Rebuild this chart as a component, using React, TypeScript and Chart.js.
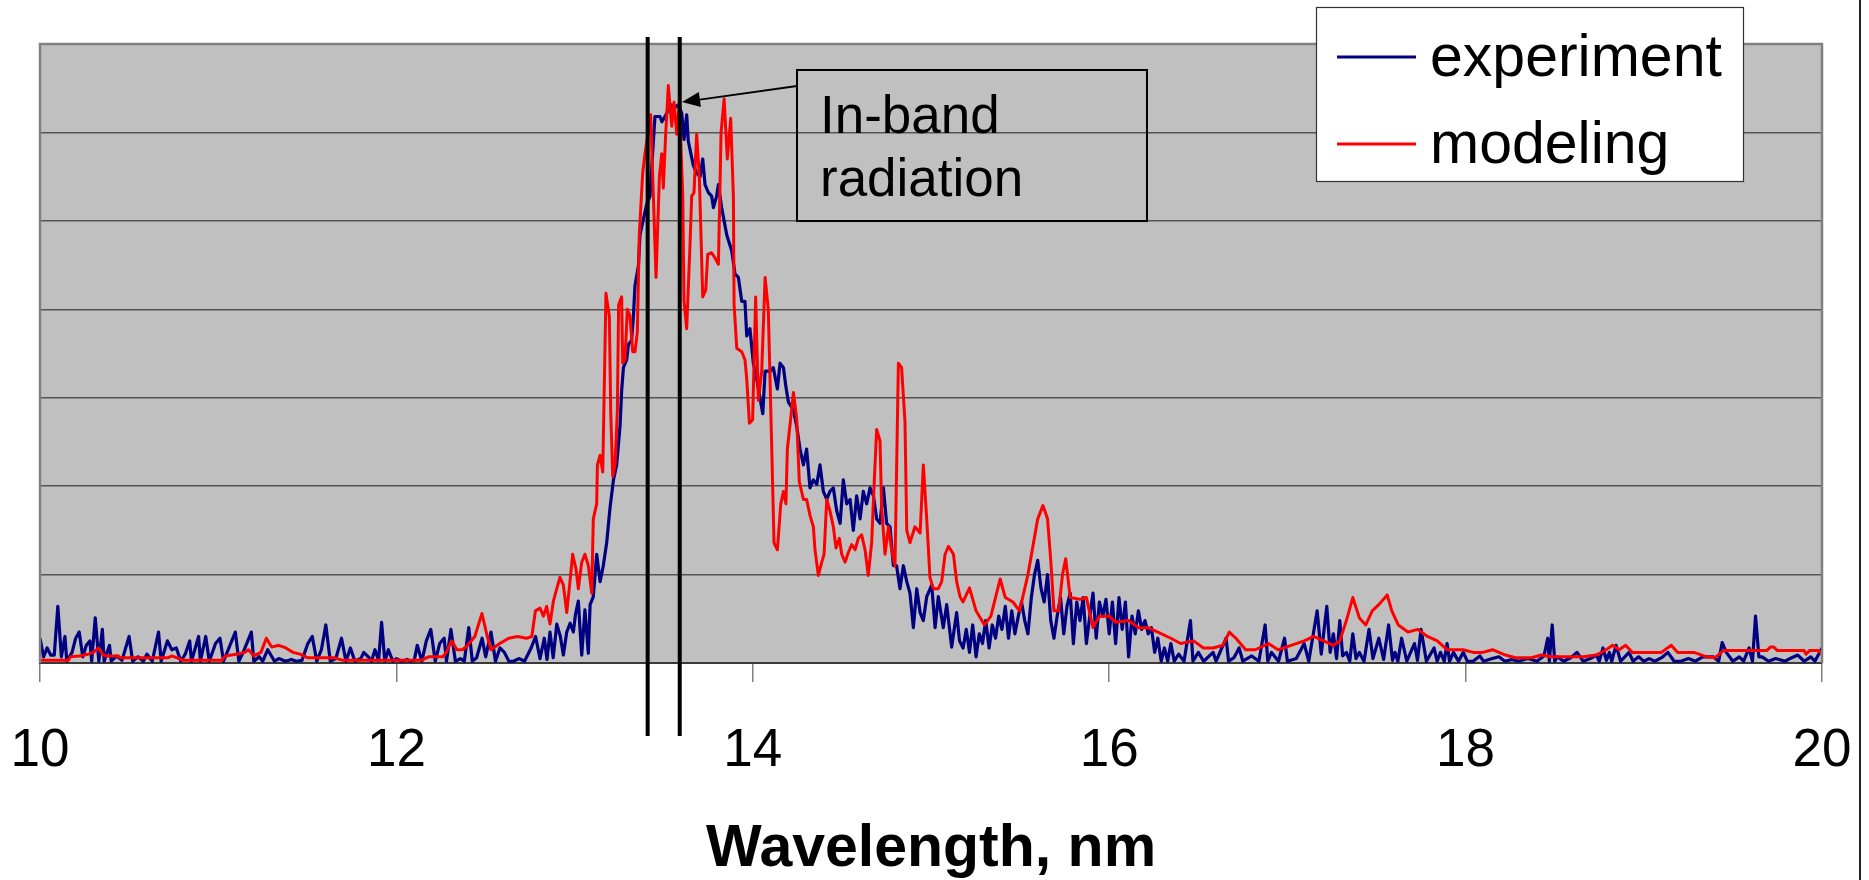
import React, { useEffect, useRef } from "react";
import { Chart, registerables } from "chart.js";

Chart.register(...registerables);

const FONT = '"Liberation Sans", Arial, Helvetica, sans-serif';

// ---- Data (wavelength in nm, intensity in arbitrary gridline units) ----
const seriesNames = ["experiment", "modeling"];
const xAxisTitle = "Wavelength, nm";
const xTickValues = [10, 12, 14, 16, 18, 20];
const bandEdges = [13.41, 13.59];
const annotationLines = ["In-band", "radiation"];

const experimentPoints: [number, number][] = [
  [10.0, 0.28], [10.02, 0.07], [10.04, 0.17], [10.06, 0.09], [10.08, 0.09], [10.1, 0.64], [10.12, 0.07],
  [10.14, 0.3], [10.15, 0.02], [10.18, 0.12], [10.2, 0.28], [10.22, 0.35], [10.24, 0.07], [10.26, 0.2],
  [10.28, 0.25], [10.29, 0.02], [10.31, 0.51], [10.33, 0.02], [10.35, 0.38], [10.36, 0.02], [10.39, 0.2],
  [10.4, 0.02], [10.43, 0.08], [10.46, 0.03], [10.5, 0.3], [10.52, 0.02], [10.55, 0.07], [10.58, 0.02],
  [10.6, 0.1], [10.63, 0.02], [10.665, 0.35], [10.68, 0.02], [10.715, 0.25], [10.74, 0.15], [10.765, 0.17],
  [10.79, 0.02], [10.815, 0.1], [10.84, 0.25], [10.85, 0.02], [10.89, 0.3], [10.9, 0.02], [10.93, 0.3],
  [10.95, 0.02], [10.985, 0.22], [11.01, 0.28], [11.03, 0.02], [11.066, 0.2], [11.096, 0.35], [11.116, 0.02],
  [11.14, 0.12], [11.186, 0.35], [11.2, 0.02], [11.23, 0.07], [11.25, 0.02], [11.278, 0.15], [11.316, 0.02],
  [11.34, 0.05], [11.378, 0.02], [11.41, 0.04], [11.44, 0.02], [11.47, 0.03], [11.503, 0.22], [11.528, 0.3],
  [11.553, 0.02], [11.579, 0.15], [11.604, 0.43], [11.629, 0.02], [11.66, 0.05], [11.692, 0.28], [11.717, 0.02],
  [11.742, 0.17], [11.767, 0.02], [11.8, 0.05], [11.817, 0.12], [11.842, 0.07], [11.86, 0.02], [11.88, 0.15],
  [11.9, 0.03], [11.917, 0.46], [11.935, 0.02], [11.955, 0.15], [11.98, 0.02], [12.0, 0.05], [12.03, 0.02],
  [12.06, 0.04], [12.08, 0.02], [12.1, 0.03], [12.117, 0.2], [12.143, 0.02], [12.168, 0.25], [12.193, 0.38],
  [12.218, 0.02], [12.243, 0.22], [12.268, 0.28], [12.281, 0.02], [12.306, 0.38], [12.331, 0.02], [12.36, 0.05],
  [12.381, 0.02], [12.406, 0.4], [12.426, 0.02], [12.45, 0.06], [12.481, 0.28], [12.501, 0.07], [12.531, 0.35],
  [12.556, 0.02], [12.581, 0.17], [12.606, 0.12], [12.631, 0.02], [12.656, 0.02], [12.69, 0.05], [12.719, 0.02],
  [12.756, 0.17], [12.781, 0.3], [12.806, 0.05], [12.83, 0.28], [12.845, 0.04], [12.862, 0.35], [12.88, 0.06],
  [12.9, 0.44], [12.92, 0.3], [12.937, 0.09], [12.956, 0.35], [12.975, 0.45], [12.993, 0.35], [13.005, 0.55],
  [13.021, 0.7], [13.03, 0.4], [13.04, 0.09], [13.058, 0.6], [13.077, 0.11], [13.087, 0.66], [13.105, 0.75],
  [13.124, 1.23], [13.143, 0.92], [13.161, 1.1], [13.18, 1.36], [13.199, 1.76], [13.218, 2.07], [13.236, 2.24],
  [13.255, 2.68], [13.264, 3.08], [13.274, 3.34], [13.292, 3.43], [13.302, 3.6], [13.32, 3.65], [13.33, 3.92],
  [13.339, 4.27], [13.358, 4.49], [13.367, 4.84], [13.386, 5.02], [13.405, 5.19], [13.423, 5.28], [13.442, 5.9],
  [13.451, 6.18], [13.479, 6.18], [13.49, 6.12], [13.507, 6.18], [13.526, 6.25], [13.545, 6.31], [13.555, 6.2],
  [13.564, 6.29], [13.582, 6.31], [13.601, 6.22], [13.614, 5.92], [13.629, 6.2], [13.638, 5.9], [13.666, 5.63],
  [13.685, 5.54], [13.704, 5.5], [13.719, 5.7], [13.732, 5.41], [13.751, 5.32], [13.769, 5.28], [13.779, 5.15],
  [13.797, 5.28], [13.807, 5.41], [13.825, 5.15], [13.854, 4.84], [13.882, 4.66], [13.9, 4.4], [13.919, 4.36],
  [13.938, 4.09], [13.956, 4.09], [13.966, 3.7], [13.984, 3.78], [14.003, 3.39], [14.022, 3.21], [14.041, 2.99],
  [14.056, 2.82], [14.069, 3.3], [14.097, 3.3], [14.115, 3.34], [14.138, 3.1], [14.153, 3.39], [14.172, 3.34],
  [14.186, 3.12], [14.2, 2.95], [14.228, 2.86], [14.246, 2.68], [14.265, 2.42], [14.284, 2.24], [14.302, 2.42],
  [14.321, 1.98], [14.34, 2.07], [14.359, 2.02], [14.377, 2.24], [14.396, 1.94], [14.415, 1.85], [14.433, 1.94],
  [14.452, 1.98], [14.471, 1.72], [14.49, 1.58], [14.508, 2.07], [14.527, 1.8], [14.546, 1.85], [14.564, 1.5],
  [14.583, 1.89], [14.602, 1.63], [14.62, 1.94], [14.639, 1.8], [14.658, 1.98], [14.677, 1.89], [14.695, 1.63],
  [14.714, 1.58], [14.733, 1.98], [14.751, 1.58], [14.77, 1.54], [14.789, 1.1], [14.807, 1.1], [14.826, 0.84],
  [14.845, 1.1], [14.864, 0.92], [14.882, 0.79], [14.901, 0.4], [14.92, 0.84], [14.939, 0.57], [14.957, 0.48],
  [14.976, 0.75], [15.004, 0.88], [15.023, 0.4], [15.041, 0.75], [15.069, 0.4], [15.088, 0.66], [15.116, 0.18],
  [15.144, 0.57], [15.16, 0.25], [15.18, 0.17], [15.198, 0.38], [15.216, 0.12], [15.234, 0.43], [15.253, 0.07],
  [15.271, 0.33], [15.289, 0.22], [15.307, 0.48], [15.326, 0.17], [15.344, 0.43], [15.362, 0.28], [15.38, 0.53],
  [15.398, 0.38], [15.417, 0.64], [15.435, 0.28], [15.453, 0.59], [15.471, 0.33], [15.49, 0.53], [15.508, 0.69],
  [15.526, 0.48], [15.544, 0.33], [15.563, 0.74], [15.581, 1.0], [15.599, 1.16], [15.617, 0.85], [15.635, 0.69],
  [15.654, 1.0], [15.672, 0.48], [15.69, 0.28], [15.708, 0.53], [15.727, 0.74], [15.745, 0.33], [15.763, 0.64],
  [15.781, 0.79], [15.799, 0.22], [15.818, 0.69], [15.836, 0.48], [15.854, 0.74], [15.872, 0.22], [15.891, 0.53],
  [15.909, 0.79], [15.927, 0.28], [15.945, 0.69], [15.964, 0.53], [15.982, 0.72], [16.0, 0.33], [16.018, 0.69],
  [16.036, 0.22], [16.055, 0.74], [16.073, 0.38], [16.091, 0.69], [16.109, 0.07], [16.128, 0.53], [16.146, 0.33],
  [16.164, 0.59], [16.182, 0.38], [16.201, 0.48], [16.219, 0.33], [16.237, 0.4], [16.255, 0.12], [16.273, 0.28],
  [16.292, 0.02], [16.31, 0.17], [16.328, 0.02], [16.346, 0.22], [16.365, 0.02], [16.39, 0.1], [16.42, 0.02],
  [16.456, 0.48], [16.47, 0.02], [16.5, 0.12], [16.53, 0.02], [16.583, 0.12], [16.6, 0.02], [16.656, 0.28],
  [16.67, 0.02], [16.7, 0.06], [16.729, 0.17], [16.75, 0.02], [16.8, 0.08], [16.84, 0.02], [16.875, 0.43],
  [16.89, 0.02], [16.911, 0.12], [16.95, 0.02], [16.984, 0.28], [17.0, 0.02], [17.05, 0.05], [17.094, 0.22],
  [17.12, 0.02], [17.167, 0.59], [17.19, 0.1], [17.221, 0.64], [17.24, 0.12], [17.258, 0.33], [17.276, 0.05],
  [17.294, 0.48], [17.31, 0.08], [17.331, 0.12], [17.35, 0.02], [17.367, 0.33], [17.385, 0.05], [17.404, 0.12],
  [17.43, 0.02], [17.458, 0.38], [17.48, 0.05], [17.513, 0.28], [17.54, 0.04], [17.568, 0.43], [17.59, 0.03],
  [17.604, 0.12], [17.62, 0.02], [17.641, 0.28], [17.67, 0.02], [17.713, 0.22], [17.73, 0.03], [17.75, 0.38],
  [17.78, 0.02], [17.823, 0.17], [17.84, 0.02], [17.859, 0.12], [17.88, 0.02], [17.896, 0.22], [17.91, 0.02],
  [17.932, 0.12], [17.96, 0.02], [17.987, 0.12], [18.01, 0.02], [18.042, 0.02], [18.08, 0.08], [18.1, 0.02],
  [18.15, 0.05], [18.187, 0.07], [18.22, 0.02], [18.26, 0.04], [18.297, 0.02], [18.35, 0.05], [18.4, 0.02],
  [18.44, 0.08], [18.461, 0.28], [18.47, 0.02], [18.486, 0.43], [18.5, 0.02], [18.515, 0.07], [18.55, 0.02],
  [18.59, 0.06], [18.625, 0.12], [18.66, 0.02], [18.7, 0.05], [18.734, 0.09], [18.75, 0.02], [18.771, 0.17],
  [18.79, 0.03], [18.807, 0.12], [18.82, 0.02], [18.844, 0.2], [18.87, 0.02], [18.917, 0.12], [18.94, 0.02],
  [18.971, 0.07], [19.0, 0.02], [19.03, 0.05], [19.062, 0.02], [19.1, 0.06], [19.135, 0.12], [19.17, 0.02],
  [19.208, 0.02], [19.25, 0.05], [19.29, 0.02], [19.33, 0.07], [19.39, 0.07], [19.42, 0.02], [19.44, 0.23],
  [19.463, 0.12], [19.5, 0.02], [19.536, 0.07], [19.56, 0.02], [19.591, 0.17], [19.61, 0.02], [19.627, 0.53],
  [19.646, 0.07], [19.664, 0.07], [19.7, 0.02], [19.74, 0.05], [19.792, 0.02], [19.83, 0.06], [19.864, 0.09],
  [19.9, 0.02], [19.937, 0.07], [19.96, 0.02], [20.0, 0.17],
];

const modelingPoints: [number, number][] = [
  [10.0, 0.03], [10.16, 0.03], [10.17, 0.07], [10.22, 0.08], [10.27, 0.1], [10.3, 0.12], [10.33, 0.17],
  [10.35, 0.1], [10.37, 0.08], [10.44, 0.08], [10.45, 0.06], [10.72, 0.06], [10.74, 0.08], [10.78, 0.05],
  [10.8, 0.03], [11.02, 0.03], [11.04, 0.08], [11.1, 0.1], [11.15, 0.12], [11.17, 0.15], [11.2, 0.08],
  [11.24, 0.12], [11.27, 0.28], [11.3, 0.18], [11.34, 0.2], [11.38, 0.17], [11.42, 0.12], [11.46, 0.1],
  [11.5, 0.06], [11.65, 0.06], [11.7, 0.03], [12.14, 0.03], [12.18, 0.07], [12.26, 0.07], [12.28, 0.12],
  [12.31, 0.25], [12.34, 0.15], [12.37, 0.15], [12.4, 0.2], [12.44, 0.3], [12.48, 0.56], [12.51, 0.3],
  [12.53, 0.15], [12.58, 0.22], [12.63, 0.28], [12.68, 0.3], [12.73, 0.28], [12.76, 0.3], [12.78, 0.59],
  [12.806, 0.62], [12.825, 0.53], [12.843, 0.64], [12.862, 0.44], [12.881, 0.7], [12.9, 0.84], [12.918, 0.97],
  [12.937, 0.88], [12.956, 0.57], [12.974, 0.92], [12.989, 1.23], [13.008, 1.06], [13.021, 0.84], [13.04, 1.14],
  [13.058, 1.23], [13.077, 1.1], [13.096, 0.79], [13.105, 1.63], [13.124, 1.8], [13.128, 2.24], [13.143, 2.35],
  [13.158, 2.16], [13.176, 4.18], [13.195, 3.92], [13.203, 2.82], [13.214, 2.11], [13.227, 2.24], [13.24, 2.86],
  [13.247, 4.05], [13.264, 4.14], [13.27, 3.39], [13.283, 3.43], [13.296, 4.0], [13.311, 3.92], [13.326, 3.52],
  [13.339, 3.52], [13.352, 3.74], [13.363, 4.84], [13.382, 5.54], [13.395, 5.76], [13.408, 5.94], [13.427, 6.2],
  [13.457, 4.36], [13.476, 5.5], [13.489, 5.76], [13.498, 5.37], [13.511, 5.98], [13.526, 6.53], [13.545, 6.07],
  [13.558, 6.34], [13.573, 5.98], [13.588, 6.34], [13.607, 5.28], [13.614, 4.09], [13.629, 3.78], [13.648, 4.75],
  [13.657, 5.28], [13.67, 5.32], [13.685, 5.98], [13.7, 5.5], [13.719, 4.14], [13.736, 4.22], [13.747, 4.62],
  [13.769, 4.64], [13.788, 4.58], [13.807, 4.51], [13.822, 6.0], [13.839, 6.38], [13.857, 5.7], [13.876, 6.16],
  [13.891, 5.28], [13.895, 4.05], [13.91, 3.56], [13.938, 3.52], [13.956, 3.43], [13.966, 3.21], [13.981, 2.71],
  [13.999, 2.75], [14.016, 4.14], [14.031, 2.97], [14.05, 3.3], [14.069, 4.36], [14.087, 4.0], [14.106, 2.46],
  [14.119, 1.36], [14.138, 1.28], [14.157, 1.8], [14.172, 1.94], [14.186, 1.8], [14.194, 2.42], [14.213, 2.77],
  [14.228, 3.06], [14.246, 2.77], [14.261, 2.05], [14.284, 1.85], [14.302, 1.85], [14.321, 1.67], [14.34, 1.54],
  [14.349, 1.28], [14.368, 0.99], [14.387, 1.14], [14.4, 1.23], [14.415, 1.85], [14.433, 1.72], [14.452, 1.54],
  [14.467, 1.3], [14.486, 1.41], [14.499, 1.23], [14.518, 1.14], [14.536, 1.25], [14.555, 1.34], [14.574, 1.28],
  [14.592, 1.41], [14.611, 1.45], [14.63, 1.28], [14.648, 0.99], [14.667, 1.36], [14.68, 1.98], [14.695, 2.64],
  [14.714, 2.51], [14.723, 1.76], [14.742, 1.23], [14.761, 1.54], [14.779, 1.28], [14.798, 1.1], [14.807, 2.2],
  [14.817, 3.39], [14.835, 3.34], [14.854, 2.73], [14.864, 1.5], [14.882, 1.36], [14.91, 1.54], [14.939, 1.47],
  [14.957, 2.24], [14.976, 1.63], [14.994, 0.97], [15.013, 0.84], [15.041, 0.84], [15.06, 0.92], [15.079, 1.23],
  [15.098, 1.32], [15.126, 1.23], [15.144, 0.92], [15.163, 0.75], [15.18, 0.69], [15.216, 0.85], [15.253, 0.59],
  [15.3, 0.43], [15.336, 0.53], [15.388, 0.95], [15.417, 0.74], [15.46, 0.69], [15.497, 0.59], [15.544, 1.0],
  [15.599, 1.63], [15.628, 1.78], [15.654, 1.63], [15.672, 1.16], [15.69, 0.59], [15.716, 0.59], [15.738, 1.0],
  [15.756, 1.18], [15.781, 0.74], [15.836, 0.72], [15.872, 0.74], [15.909, 0.4], [15.945, 0.53], [16.0, 0.53],
  [16.036, 0.46], [16.109, 0.48], [16.164, 0.4], [16.219, 0.4], [16.273, 0.35], [16.346, 0.28], [16.401, 0.22],
  [16.474, 0.25], [16.529, 0.17], [16.583, 0.17], [16.638, 0.2], [16.674, 0.35], [16.711, 0.28], [16.766, 0.15],
  [16.82, 0.15], [16.893, 0.22], [16.948, 0.15], [17.021, 0.2], [17.094, 0.25], [17.148, 0.3], [17.203, 0.25],
  [17.258, 0.2], [17.294, 0.25], [17.331, 0.48], [17.367, 0.74], [17.404, 0.51], [17.44, 0.43], [17.476, 0.59],
  [17.513, 0.66], [17.56, 0.77], [17.586, 0.59], [17.622, 0.43], [17.677, 0.35], [17.732, 0.38], [17.786, 0.3],
  [17.841, 0.25], [17.896, 0.15], [17.987, 0.15], [18.042, 0.12], [18.096, 0.12], [18.151, 0.15], [18.224, 0.09],
  [18.279, 0.06], [18.37, 0.06], [18.424, 0.09], [18.479, 0.07], [18.552, 0.07], [18.661, 0.07], [18.734, 0.09],
  [18.789, 0.15], [18.825, 0.2], [18.862, 0.15], [18.898, 0.2], [18.935, 0.12], [19.026, 0.12], [19.099, 0.12],
  [19.154, 0.2], [19.19, 0.12], [19.281, 0.12], [19.354, 0.07], [19.4, 0.06], [19.447, 0.14], [19.69, 0.14],
  [19.71, 0.18], [19.73, 0.18], [19.75, 0.14], [19.9, 0.14], [19.91, 0.1], [19.93, 0.14], [19.98, 0.14],
  [20.0, 0.1],
];

// Annotation anchors in data units
const annotationBox = { x0: 14.248, x1: 16.212, yTop: 6.706, yBottom: 4.998 };
const arrowTip = { x: 13.603, y: 6.344 };
const arrowTail = { x: 14.248, y: 6.525 };

// Target plot rectangle inside the 1869x880 canvas
const PLOT = { left: 40, right: 1822, top: 44, bottom: 663 };

const decorPlugin = {
  id: "decor",
  beforeDraw(chart: any) {
    const { ctx, chartArea: a } = chart;
    ctx.save();
    ctx.fillStyle = "#ffffff";
    ctx.fillRect(0, 0, chart.width, chart.height);
    ctx.fillStyle = "#C0C0C0";
    ctx.fillRect(a.left, a.top, a.right - a.left, a.bottom - a.top);
    ctx.restore();
  },
  afterDatasetsDraw(chart: any) {
    const { ctx, chartArea: a, scales } = chart;
    const xs = scales.x;
    const ys = scales.y;
    ctx.save();
    // plot border (left, top, right)
    ctx.strokeStyle = "#808080";
    ctx.lineWidth = 2.5;
    ctx.beginPath();
    ctx.moveTo(a.left, a.bottom);
    ctx.lineTo(a.left, a.top);
    ctx.lineTo(a.right, a.top);
    ctx.lineTo(a.right, a.bottom);
    ctx.stroke();

    // in-band edges
    ctx.strokeStyle = "#000000";
    ctx.lineWidth = 4;
    bandEdges.forEach((w) => {
      const px = xs.getPixelForValue(w);
      ctx.beginPath();
      ctx.moveTo(px, a.top - 7);
      ctx.lineTo(px, a.bottom + 73);
      ctx.stroke();
    });

    // annotation box
    const bx0 = xs.getPixelForValue(annotationBox.x0);
    const bx1 = xs.getPixelForValue(annotationBox.x1);
    const by0 = ys.getPixelForValue(annotationBox.yTop);
    const by1 = ys.getPixelForValue(annotationBox.yBottom);
    ctx.lineWidth = 2;
    ctx.strokeRect(bx0, by0, bx1 - bx0, by1 - by0);
    ctx.fillStyle = "#000";
    ctx.font = `53px ${FONT}`;
    ctx.textBaseline = "alphabetic";
    ctx.textAlign = "left";
    ctx.fillText(annotationLines[0], bx0 + 23, by0 + 63);
    ctx.fillText(annotationLines[1], bx0 + 23, by0 + 126);

    // arrow
    const tx = xs.getPixelForValue(arrowTip.x);
    const ty = ys.getPixelForValue(arrowTip.y);
    const sx = xs.getPixelForValue(arrowTail.x);
    const sy = ys.getPixelForValue(arrowTail.y);
    const ang = Math.atan2(ty - sy, tx - sx);
    const headLen = 18;
    const headHalf = 7.5;
    const bxh = tx - headLen * Math.cos(ang);
    const byh = ty - headLen * Math.sin(ang);
    ctx.lineWidth = 1.8;
    ctx.beginPath();
    ctx.moveTo(sx, sy);
    ctx.lineTo(bxh, byh);
    ctx.stroke();
    ctx.beginPath();
    ctx.moveTo(tx, ty);
    ctx.lineTo(bxh + headHalf * Math.sin(ang), byh - headHalf * Math.cos(ang));
    ctx.lineTo(bxh - headHalf * Math.sin(ang), byh + headHalf * Math.cos(ang));
    ctx.closePath();
    ctx.fill();
    ctx.restore();
  },
  afterDraw(chart: any) {
    const { ctx } = chart;
    ctx.save();
    // legend box
    const lx = 1316.5, ly = 7.5, lw = 427, lh = 174;
    ctx.fillStyle = "#ffffff";
    ctx.fillRect(lx, ly, lw, lh);
    ctx.strokeStyle = "#333333";
    ctx.lineWidth = 1.2;
    ctx.strokeRect(lx, ly, lw, lh);
    const colors = ["#000080", "#FF0000"];
    const rowY = [57, 144];
    seriesNames.forEach((name, i) => {
      ctx.strokeStyle = colors[i];
      ctx.lineWidth = 3;
      ctx.beginPath();
      ctx.moveTo(1337, rowY[i]);
      ctx.lineTo(1416, rowY[i]);
      ctx.stroke();
      ctx.fillStyle = "#000";
      ctx.font = `59px ${FONT}`;
      ctx.textAlign = "left";
      ctx.textBaseline = "alphabetic";
      ctx.fillText(name, 1430, rowY[i] + 19);
    });
    // right frame line
    ctx.strokeStyle = "#222222";
    ctx.lineWidth = 2;
    ctx.beginPath();
    ctx.moveTo(1860, 0);
    ctx.lineTo(1860, chart.height);
    ctx.stroke();
    ctx.restore();
  },
};

export default function App() {
  const ref = useRef<HTMLCanvasElement | null>(null);

  useEffect(() => {
    if (!ref.current) return;
    const chart = new Chart(ref.current, {
      type: "line",
      data: {
        datasets: [
          {
            label: seriesNames[0],
            data: experimentPoints.map(([x, y]) => ({ x, y })),
            borderColor: "#000080",
            borderWidth: 3.2,
            pointRadius: 0,
            tension: 0,
            fill: false,
            borderJoinStyle: "round",
            order: 2,
          },
          {
            label: seriesNames[1],
            data: modelingPoints.map(([x, y]) => ({ x, y })),
            borderColor: "#FF0000",
            borderWidth: 3,
            pointRadius: 0,
            tension: 0,
            fill: false,
            borderJoinStyle: "round",
            order: 1,
          },
        ],
      },
      options: {
        responsive: false,
        maintainAspectRatio: false,
        devicePixelRatio: 1,
        animation: false,
        events: [],
        layout: {
          padding: { left: PLOT.left, right: 1869 - PLOT.right, top: PLOT.top, bottom: 0 },
        },
        plugins: {
          legend: { display: false },
          tooltip: { enabled: false },
          title: { display: false },
        },
        scales: {
          x: {
            type: "linear",
            min: 10,
            max: 20,
            afterFit: (s: any) => {
              s.height = 880 - PLOT.bottom;
            },
            afterBuildTicks: (s: any) => {
              s.ticks = xTickValues.map((v) => ({ value: v }));
            },
            ticks: {
              stepSize: 2,
              autoSkip: false,
              maxRotation: 0,
              minRotation: 0,
              color: "#000",
              padding: 8,
              font: { family: FONT, size: 53, lineHeight: 2.3 },
            },
            grid: {
              drawOnChartArea: false,
              drawTicks: true,
              tickLength: 19,
              color: "#808080",
              lineWidth: 1.5,
            },
            border: { display: true, color: "#3a3a3a", width: 2 },
            title: {
              display: true,
              text: xAxisTitle,
              color: "#000",
              font: { family: FONT, size: 59, weight: "bold", lineHeight: 1 },
              padding: { top: 0, bottom: 1 },
            },
          },
          y: {
            type: "linear",
            min: 0,
            max: 7,
            afterFit: (s: any) => {
              s.width = 0;
            },
            ticks: { display: false, stepSize: 1 },
            grid: {
              drawTicks: false,
              color: "#555555",
              lineWidth: 1.5,
            },
            border: { display: false },
          },
        },
      } as any,
      plugins: [decorPlugin],
    });

    return () => chart.destroy();
  }, []);

  return (
    <div
      style={{
        position: "absolute",
        left: 0,
        top: 0,
        width: 1869,
        height: 880,
        background: "#ffffff",
      }}
    >
      <canvas ref={ref} width={1869} height={880} style={{ display: "block", width: 1869, height: 880 }} />
    </div>
  );
}
